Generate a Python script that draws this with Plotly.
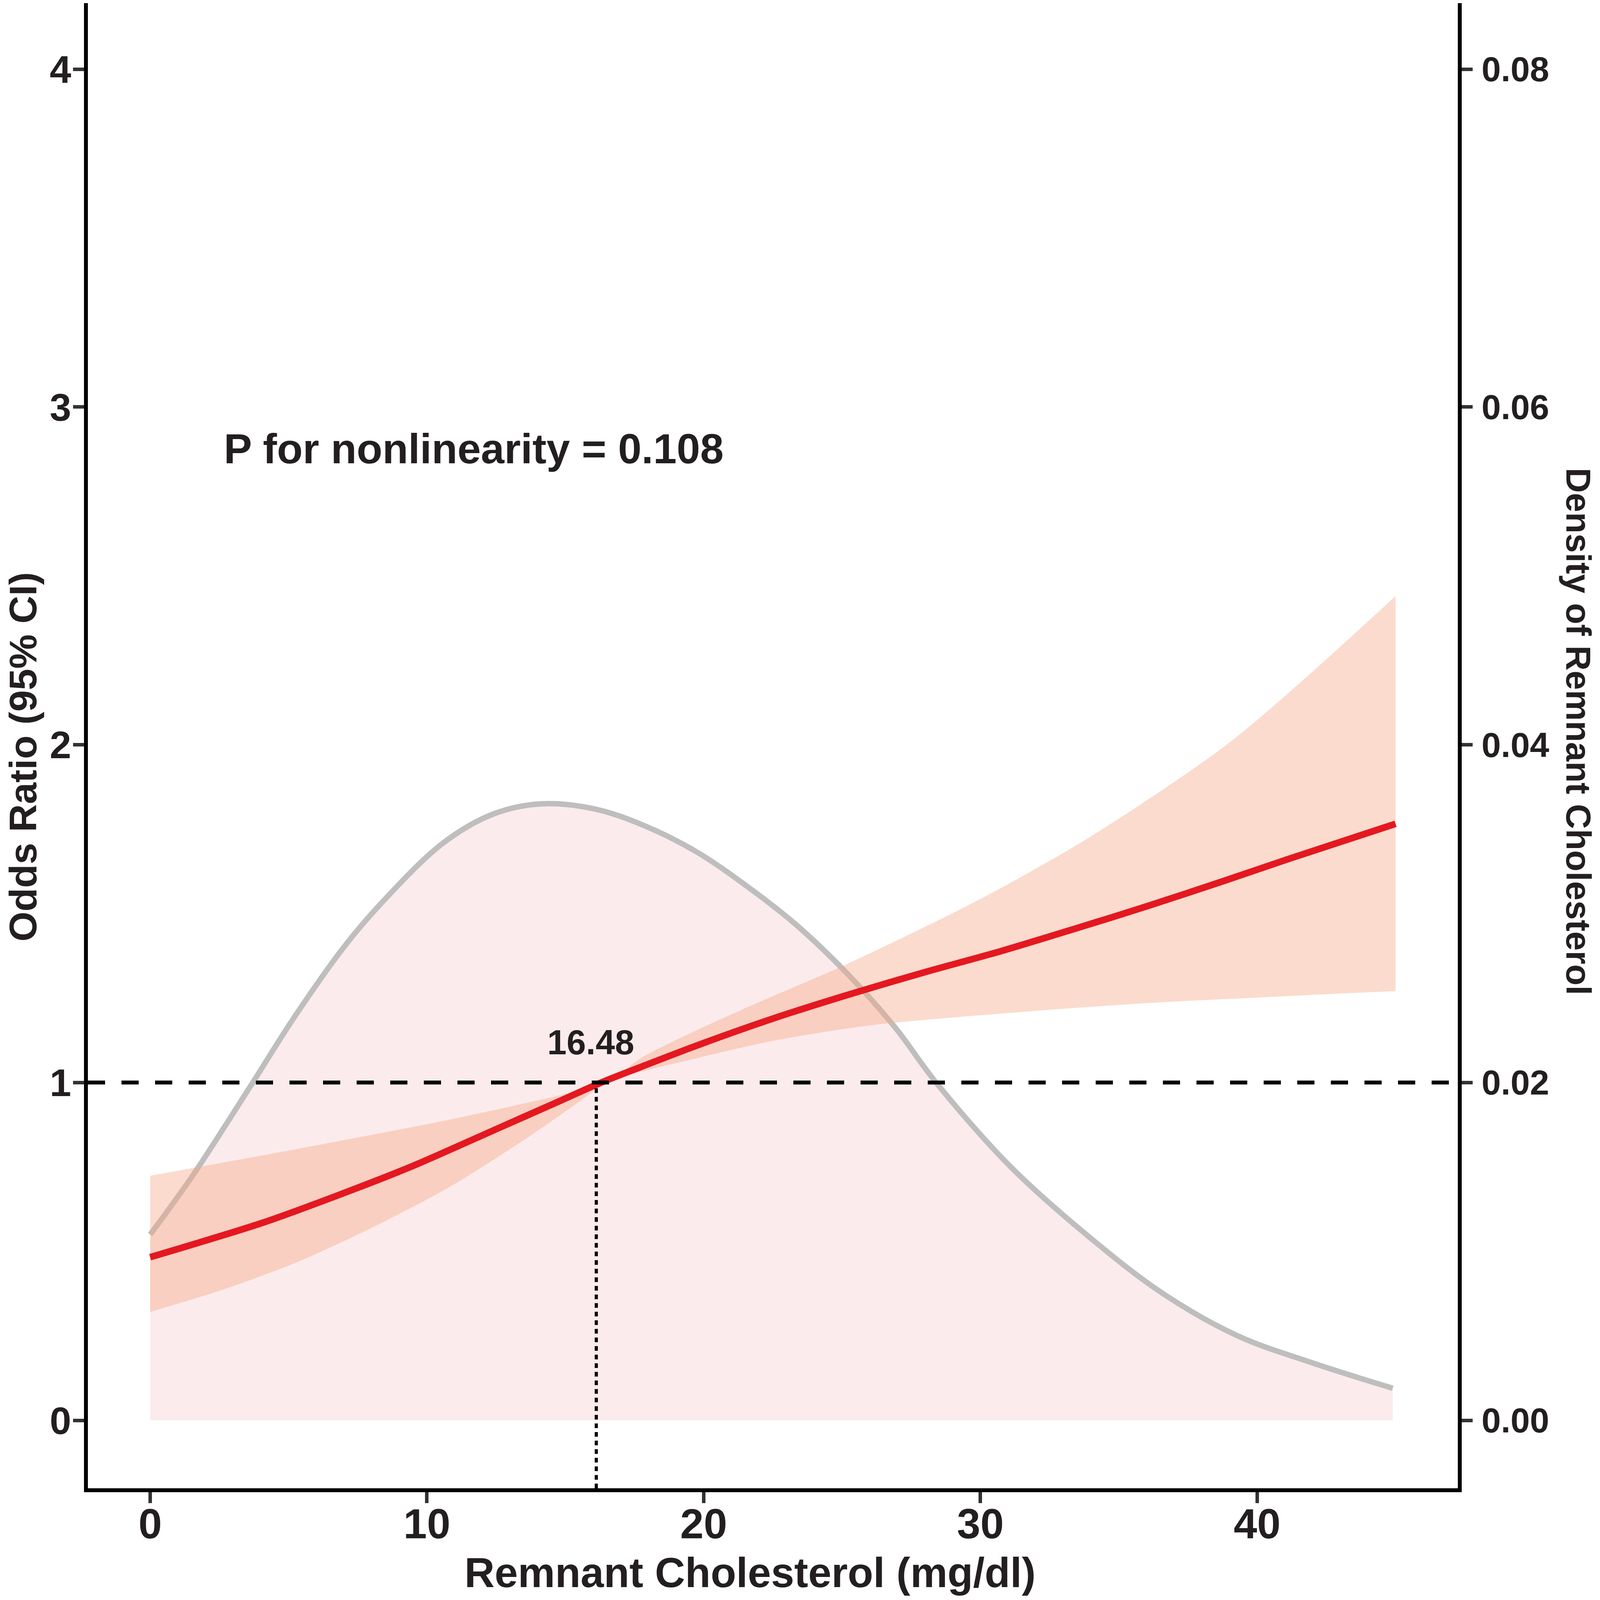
import plotly.graph_objects as go

# restricted cubic spline fit: odds ratio vs remnant cholesterol
fit_x = [0, 4.07, 6.78, 9.49, 12.2, 14.9, 16.3, 17.6, 19.9, 22.6, 25.3, 28.0, 30.7, 33.4, 36.1, 38.8, 41.1, 45]
fit_or = [0.483, 0.585, 0.666, 0.753, 0.851, 0.949, 1.0, 1.042, 1.114, 1.192, 1.262, 1.327, 1.388, 1.455, 1.524, 1.597, 1.661, 1.766]

upper_x = [0, 5.42, 10.8, 15.6, 16.48, 17.87, 21.5, 25.1, 29.9, 33.9, 39.1, 45]
upper_or = [0.724, 0.805, 0.890, 0.978, 1.0, 1.079, 1.22, 1.348, 1.539, 1.724, 2.013, 2.44]

lower_x = [0, 2.71, 5.42, 8.13, 10.8, 13.6, 15.6, 16.48, 19.9, 22.6, 26.1, 31.2, 36.0, 41.1, 45]
lower_or = [0.321, 0.389, 0.472, 0.575, 0.690, 0.835, 0.949, 1.0, 1.075, 1.125, 1.170, 1.207, 1.235, 1.256, 1.271]

# kernel density of remnant cholesterol (right axis)
dens_x = [0, 1.54, 3.63, 5.18, 6.99, 8.34, 10.6, 12.4, 14.1, 16.06, 17.87, 19.7, 21.5, 23.3, 25.1, 26.9, 28.4, 31.1, 33.9, 36.6, 39.3, 42.0, 44.9]
dens_y = [0.0110, 0.0145, 0.0198, 0.0238, 0.0280, 0.0306, 0.0342, 0.0359, 0.0365, 0.0362, 0.0352, 0.0337, 0.0317, 0.0294, 0.0266, 0.0233, 0.0200, 0.0150, 0.0109, 0.0075, 0.0050, 0.0034, 0.0019]

ref_x = 16.12
ref_label = "16.48"
p_text = "P for nonlinearity = 0.108"

FONT = "Liberation Sans, Arial, sans-serif"
TXT = "#231F20"
OR_RANGE = [-0.2012, 4.1957]
DENS_RANGE = [OR_RANGE[0] * 0.02, OR_RANGE[1] * 0.02]

fig = go.Figure()

# density layer (base y axis, right side) - drawn under the OR layer
fig.add_trace(go.Scatter(x=dens_x, y=dens_y, mode="lines", line=dict(color="#BEBEBE", width=14, shape="spline", smoothing=1.0),
                         fill="tozeroy", fillcolor="#FCEBEC", yaxis="y", hoverinfo="skip"))

# CI band + fitted OR (overlay axis, left side)
fig.add_trace(go.Scatter(x=lower_x, y=lower_or, mode="lines", line=dict(width=0, shape="spline", smoothing=0.8), yaxis="y2", hoverinfo="skip"))
fig.add_trace(go.Scatter(x=upper_x, y=upper_or, mode="lines", line=dict(width=0, shape="spline", smoothing=0.8),
                         fill="tonexty", fillcolor="rgba(244,165,130,0.4)", yaxis="y2", hoverinfo="skip"))
fig.add_trace(go.Scatter(x=fit_x, y=fit_or, mode="lines", line=dict(color="#E41820", width=17, shape="spline", smoothing=0.8), yaxis="y2"))

fig.add_shape(type="line", xref="paper", x0=0, x1=1, yref="y2", y0=1, y1=1, layer="above",
              line=dict(color="black", width=10, dash="44px,42px"))
fig.add_shape(type="line", xref="x", x0=ref_x, x1=ref_x, yref="y2", y0=OR_RANGE[0], y1=1, layer="above",
              line=dict(color="black", width=8, dash="12px,10px"))

fig.add_annotation(x=15.92, y=1.119, xref="x", yref="y2", text=ref_label, showarrow=False,
                   font=dict(family=FONT, size=89, color=TXT, weight="bold"))
fig.add_annotation(x=2.64, y=2.877, xref="x", yref="y2", text=p_text, showarrow=False, xanchor="left", yanchor="middle",
                   font=dict(family=FONT, size=108, color=TXT, weight="bold"))

# axis titles placed by hand
fig.add_annotation(x=0.4834, y=-0.0568, xref="paper", yref="paper", text="Remnant Cholesterol (mg/dl)", showarrow=False,
                   xanchor="center", yanchor="middle", font=dict(family=FONT, size=107, color=TXT, weight="bold"))
fig.add_annotation(x=-0.0475, y=0.4926, xref="paper", yref="paper", text="Odds Ratio (95% CI)", showarrow=False, textangle=-90,
                   xanchor="center", yanchor="middle", font=dict(family=FONT, size=99, color=TXT, weight="bold"))
fig.add_annotation(x=1.088, y=0.5097, xref="paper", yref="paper", text="Density of Remnant Cholesterol", showarrow=False, textangle=90,
                   xanchor="center", yanchor="middle", font=dict(family=FONT, size=89, color=TXT, weight="bold"))

tick_common = dict(ticks="outside", ticklen=28, tickwidth=9, tickcolor="#333333", showline=True, linecolor="black",
                   linewidth=10, showgrid=False, zeroline=False)

fig.update_layout(
    width=4081, height=4081, showlegend=False,
    paper_bgcolor="white", plot_bgcolor="white",
    margin=dict(l=217, r=357, t=0, b=279, autoexpand=False),
    xaxis=dict(range=[-2.25, 47.25], tickvals=[0, 10, 20, 30, 40], anchor="y", ticklabelstandoff=-40,
               tickfont=dict(family=FONT, size=108, color=TXT, weight="bold"), **tick_common),
    yaxis=dict(range=DENS_RANGE, side="right", tickvals=[0, 0.02, 0.04, 0.06, 0.08], tickformat=".2f", ticklabelstandoff=5,
               tickfont=dict(family=FONT, size=89, color=TXT, weight="bold"), **tick_common),
    yaxis2=dict(range=OR_RANGE, side="left", overlaying="y", tickvals=[0, 1, 2, 3, 4], ticklabelstandoff=-15,
                tickfont=dict(family=FONT, size=99, color=TXT, weight="bold"), **tick_common),
)

fig.write_html("out.html")
